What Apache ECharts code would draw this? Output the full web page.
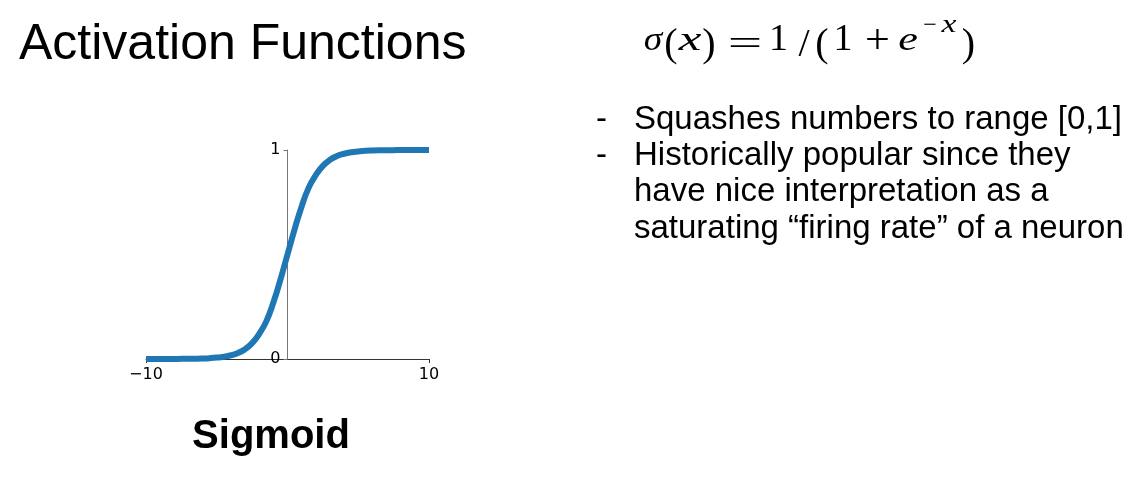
<!DOCTYPE html>
<html>
<head>
<meta charset="utf-8">
<script src="https://cdn.jsdelivr.net/npm/echarts@6/dist/echarts.min.js"></script>
<style>
  html, body { margin: 0; padding: 0; background: #fff; }
  #chart { width: 1143px; height: 494px; }
</style>
</head>
<body>
<div id="chart"></div>
<script>
// points
const xValues = [-10, -9.5, -9, -8.5, -8, -7.5, -7, -6.5, -6, -5.5, -5, -4.5, -4, -3.5, -3, -2.5, -2, -1.5, -1, -0.5,
  0, 0.5, 1, 1.5, 2, 2.5, 3, 3.5, 4, 4.5, 5, 5.5, 6, 6.5, 7, 7.5, 8, 8.5, 9, 9.5, 10]
const yValues = [0.0000, 0.0001, 0.0001, 0.0002, 0.0003, 0.0006, 0.0009, 0.0015, 0.0025, 0.0040, 0.0067, 0.011, 0.018, 0.029, 0.047, 0.076, 0.12, 0.18, 0.27, 0.38,
  0.50, 0.62, 0.73, 0.82, 0.88, 0.924, 0.953, 0.971, 0.982, 0.989, 0.993, 0.996, 0.9975, 0.9985, 0.999, 0.9994, 0.9997, 0.9998, 0.9999, 0.9999, 1.0]
const xTicks = [-10, 10]
const yTicks = [0, 1]

const pageTitle = 'Activation Functions'
const chartLabel = 'Sigmoid'
const bullets = [
  ['-', 'Squashes numbers to range [0,1]'],
  ['-', 'Historically popular since they'],
  ['', 'have nice interpretation as a'],
  ['', 'saturating \u201cfiring rate\u201d of a neuron']
]

const chart = echarts.init(document.getElementById('chart'))

const sans = '"Liberation Sans", Arial, sans-serif'
const serif = '"Liberation Serif", "Times New Roman", serif'

// one glyph of the formula, centred on cx, baseline at by
function glyph(cx, by, text, size, italic, sx) {
  return {
    type: 'text', x: cx, y: by - 0.3375 * size, scaleX: sx || 1,
    style: { text: text, fill: '#000', fontSize: size, fontFamily: serif,
      fontStyle: italic ? 'italic' : 'normal', textAlign: 'center', textVerticalAlign: 'middle' },
    silent: true
  }
}

const fb = 53
const graphics = [
  {
    type: 'text', x: 19, y: 45,
    style: { text: pageTitle, fill: '#000', font: '50px ' + sans, textVerticalAlign: 'middle' }
  },
  {
    type: 'text', x: 271, y: 437,
    style: { text: chartLabel, fill: '#000', font: 'bold 40px ' + sans, textAlign: 'center', textVerticalAlign: 'middle' }
  },
  glyph(653, fb, '\u03c3', 34, true, 1.1),
  glyph(671, fb + 6, '(', 40, false),
  glyph(690, fb, 'x', 34, true, 1.5),
  glyph(709, fb + 6, ')', 40, false),
  glyph(745, fb + 5, '=', 36, false, 1.7),
  glyph(778.5, fb, '1', 38, false, 1.0),
  glyph(804, fb + 6, '/', 40, false),
  glyph(822, fb + 6, '(', 40, false),
  glyph(843, fb, '1', 38, false, 1.0),
  glyph(877.5, fb + 3, '+', 42, false, 1.05),
  glyph(908, fb, 'e', 34, true, 1.3),
  glyph(930, 34, '\u2212', 24, false),
  glyph(949, 34, 'x', 26, true, 1.3),
  glyph(968.5, fb + 6, ')', 40, false)
]

bullets.forEach((b, i) => {
  const y = 119.6 + i * 36.3
  if (b[0]) {
    graphics.push({ type: 'text', x: 596, y: y,
      style: { text: b[0], fill: '#000', font: '33px ' + sans, textVerticalAlign: 'middle' } })
  }
  graphics.push({ type: 'text', x: 634, y: y,
    style: { text: b[1], fill: '#000', font: '33px ' + sans, textVerticalAlign: 'middle' } })
})

const tickFont = { fontFamily: '"DejaVu Sans", sans-serif', fontSize: 16, color: '#000' }

const option = {
  animation: false,
  backgroundColor: '#fff',
  grid: { left: 146, right: 714, top: 150, bottom: 135 },
  xAxis: {
    type: 'value', min: -10, max: 10, interval: 20,
    axisLine: { onZero: true, lineStyle: { color: '#333', width: 1 } },
    axisTick: { show: true, length: 4, lineStyle: { color: '#333' } },
    axisLabel: Object.assign({ margin: 8, formatter: v => (xTicks.indexOf(v) < 0 ? '' : (v < 0 ? '\u2212' + (-v) : String(v))) }, tickFont),
    splitLine: { show: false }
  },
  yAxis: {
    type: 'value', min: 0, max: 1, interval: 1,
    offset: -141.5,
    axisLine: { show: true, onZero: false, lineStyle: { color: '#777', width: 1 } },
    axisTick: { show: true, length: 4, lineStyle: { color: '#777' } },
    axisLabel: Object.assign({ margin: 7, formatter: v => (yTicks.indexOf(v) < 0 ? '' : String(v)) }, tickFont),
    splitLine: { show: false }
  },
  series: [{
    type: 'line',
    data: xValues.map((x, i) => [x, yValues[i]]),
    smooth: true,
    showSymbol: false,
    lineStyle: { color: '#1f77b4', width: 6, cap: 'butt' }
  }],
  graphic: graphics
}

chart.setOption(option)
</script>
</body>
</html>
